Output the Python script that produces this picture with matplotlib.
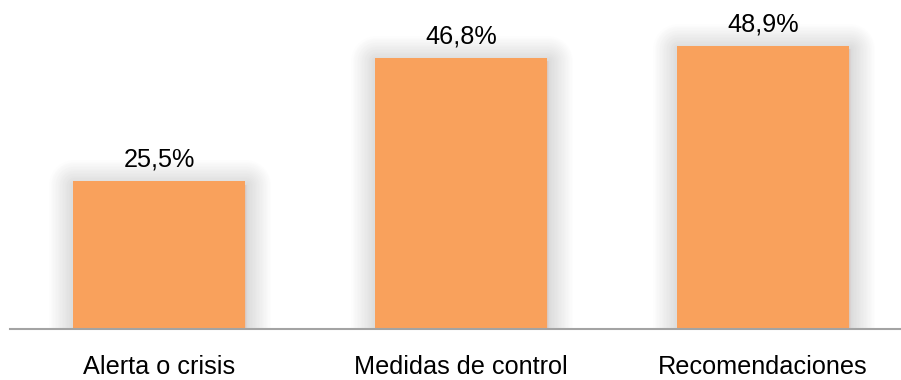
import matplotlib
matplotlib.use("agg")
import matplotlib.pyplot as plt
import matplotlib.patheffects as pe

categories = ["Alerta o crisis", "Medidas de control", "Recomendaciones"]
values = [25.5, 46.8, 48.9]
value_labels = ["25,5%", "46,8%", "48,9%"]

plt.rcParams["font.family"] = ["Liberation Sans", "DejaVu Sans"]

W, H = 901, 380
fig = plt.figure(figsize=(W / 100, H / 100), dpi=100)
ax = fig.add_axes([10 / W, 51 / H, 891 / W, 329 / H])

# soft drop shadow built from stacked translucent strokes
shadow = [
    pe.Stroke(offset=(0.8, -2.5), linewidth=lw, foreground="black",
              alpha=0.008, joinstyle="round")
    for lw in range(2, 38, 2)
] + [pe.Normal()]

x = list(range(len(categories)))
bars = ax.bar(x, values, width=0.57, color="#F9A15C", linewidth=0, zorder=2)
for b in bars:
    b.set_path_effects(shadow)

for xi, v, lab in zip(x, values, value_labels):
    ax.annotate(lab, (xi, v), xytext=(0, 10.4), textcoords="offset points",
                ha="center", va="baseline", fontsize=18.2, color="black")
    ax.annotate(categories[xi], (xi, 0), xytext=(0, -32.5),
                textcoords="offset points", ha="center", va="baseline",
                fontsize=18.2, color="black", annotation_clip=False)

ax.set_xlim(-0.4934, 2.457)
ax.set_ylim(0, 56.8)
ax.set_xticks([])
ax.set_yticks([])
for s in ["top", "right", "left"]:
    ax.spines[s].set_visible(False)
ax.spines["bottom"].set_color("#A3A3A3")
ax.spines["bottom"].set_linewidth(1.5)
ax.spines["bottom"].set_zorder(3)
ax.patch.set_visible(False)

fig.savefig("out.png", dpi=100)
